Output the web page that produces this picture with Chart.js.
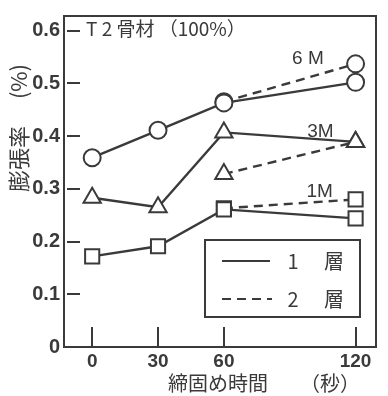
<!DOCTYPE html>
<html>
<head>
<meta charset="utf-8">
<script src="https://cdn.jsdelivr.net/npm/chart.js@4"></script>
<style>
  html, body { margin: 0; padding: 0; background: #fff; }
  #wrap { width: 388px; height: 396px; }
</style>
</head>
<body>
<div id="wrap"><canvas id="c" width="388" height="396"></canvas></div>
<script>
"use strict";
/* 膨張率 vs 締固め時間, T2骨材(100%). Solid = 1層, dashed = 2層. */
const X_TICKS = [0, 30, 60, 120];
const Y_TICKS = [0, 0.1, 0.2, 0.3, 0.4, 0.5, 0.6];
const Y_TICK_LABELS = ["0", "0.1", "0.2", "0.3", "0.4", "0.5", "0.6"];

const TIMES_1 = [0, 30, 60, 120];   // 1層
const TIMES_2 = [60, 120];          // 2層

const M6_LAYER1 = [0.359, 0.411, 0.463, 0.502];
const M6_LAYER2 = [0.465, 0.537];
const M3_LAYER1 = [0.283, 0.265, 0.407, 0.389];
const M3_LAYER2 = [0.328, 0.389];
const M1_LAYER1 = [0.172, 0.191, 0.261, 0.244];
const M1_LAYER2 = [0.263, 0.280];

const SERIES_NAMES = ["6 M", "3M", "1M"];
const LEGEND_NUMS = ["1", "2"];
const LEGEND_WORD = "層";
const TITLE = "T 2 骨材 （100%）";
const X_TITLE = "締固め時間";
const X_UNIT = "（秒）";
const Y_TITLE = "膨張率　 (%)";

const INK = "#3a3a3a";
const CJK = '"Noto Sans CJK JP", sans-serif';
const NUM = '"Liberation Sans", Arial, sans-serif';

const pts = (xs, ys) => xs.map((x, i) => ({ x, y: ys[i] }));
function series(xs, ys, shape, dashed) {
  return {
    data: pts(xs, ys), showLine: true,
    borderColor: INK, borderWidth: 2.4, borderDash: dashed ? [9, 6] : [],
    pointStyle: shape, pointRadius: shape === "circle" ? 8.5 : 10,
    pointBackgroundColor: "#fff", pointBorderColor: INK, pointBorderWidth: 2,
  };
}

const frame = {
  id: "frame",
  afterDraw(chart) {
    const { ctx, chartArea: a, scales: { x, y } } = chart;
    ctx.save();
    ctx.strokeStyle = INK; ctx.lineWidth = 2; ctx.setLineDash([]);
    // top + right border
    ctx.beginPath();
    ctx.moveTo(a.left - 1, a.top); ctx.lineTo(a.right, a.top); ctx.lineTo(a.right, a.bottom);
    ctx.stroke();
    // inside tick marks
    for (const v of Y_TICKS.slice(1)) {
      const py = Math.round(y.getPixelForValue(v));
      ctx.beginPath(); ctx.moveTo(a.left + 3, py); ctx.lineTo(a.left + 16, py); ctx.stroke();
    }
    for (const v of X_TICKS) {
      const px = Math.round(x.getPixelForValue(v));
      ctx.beginPath(); ctx.moveTo(px, a.bottom); ctx.lineTo(px, a.bottom - 20); ctx.stroke();
    }

    ctx.fillStyle = INK;
    // title
    ctx.font = "19px " + CJK; ctx.textAlign = "left"; ctx.textBaseline = "middle";
    ctx.fillText(TITLE, 86, 29);
    // series names
    ctx.font = "19px " + NUM; ctx.textAlign = "center";
    const lbl = [[98.3, 0.546], [104, 0.408], [103.6, 0.294]];
    SERIES_NAMES.forEach((s, i) =>
      ctx.fillText(s, x.getPixelForValue(lbl[i][0]), y.getPixelForValue(lbl[i][1])));

    // legend
    ctx.fillStyle = "#fff";
    ctx.fillRect(205, 240, 155, 77);
    ctx.strokeRect(205, 240, 155, 77);
    ctx.beginPath(); ctx.moveTo(222, 261); ctx.lineTo(270, 261); ctx.stroke();
    ctx.setLineDash([9, 6]);
    ctx.beginPath(); ctx.moveTo(222, 299); ctx.lineTo(272, 299); ctx.stroke();
    ctx.setLineDash([]);
    ctx.fillStyle = INK;
    ctx.font = "20px " + CJK; ctx.textAlign = "center";
    [261, 299].forEach((py, i) => {
      ctx.fillText(LEGEND_NUMS[i], 293, py);
      ctx.fillText(LEGEND_WORD, 334, py);
    });

    // axis titles
    ctx.font = "20px " + CJK; ctx.textAlign = "left";
    ctx.fillText(X_TITLE, 168, 383);
    ctx.fillText(X_UNIT, 300, 383);
    ctx.translate(19, 128); ctx.rotate(-Math.PI / 2);
    ctx.textAlign = "center"; ctx.font = "22px " + CJK;
    ctx.fillText(Y_TITLE, 0, 0);
    ctx.restore();
  },
};

new Chart(document.getElementById("c"), {
  type: "scatter",
  data: {
    datasets: [
      series(TIMES_1, M6_LAYER1, "circle", false),
      series(TIMES_2, M6_LAYER2, "circle", true),
      series(TIMES_1, M3_LAYER1, "triangle", false),
      series(TIMES_2, M3_LAYER2, "triangle", true),
      series(TIMES_1, M1_LAYER1, "rect", false),
      series(TIMES_2, M1_LAYER2, "rect", true),
    ],
  },
  options: {
    responsive: false, animation: false,
    layout: { padding: { top: 8, right: 3, left: 0, bottom: 0 } },
    plugins: { legend: { display: false }, tooltip: { enabled: false } },
    scales: {
      x: {
        type: "linear", min: -12.84, max: 129.3,
        afterBuildTicks: (s) => { s.ticks = X_TICKS.map((v) => ({ value: v })); },
        afterFit: (s) => { s.height = 49; },
        grid: { drawOnChartArea: false, drawTicks: false },
        border: { display: true, color: INK, width: 2 },
        ticks: { color: INK, padding: 3, font: { family: NUM, size: 19, weight: "bold" }, maxRotation: 0 },
      },
      y: {
        min: 0, max: 0.6278,
        afterBuildTicks: (s) => { s.ticks = Y_TICKS.map((v) => ({ value: v })); },
        afterFit: (s) => { s.width = 64; },
        grid: { drawOnChartArea: false, drawTicks: false },
        border: { display: true, color: INK, width: 2 },
        ticks: {
          color: INK, padding: 4, font: { family: NUM, size: 20, weight: "bold" },
          callback: (v) => Y_TICK_LABELS[Y_TICKS.findIndex((t) => Math.abs(t - v) < 1e-6)],
        },
      },
    },
  },
  plugins: [frame],
});
</script>
</body>
</html>
